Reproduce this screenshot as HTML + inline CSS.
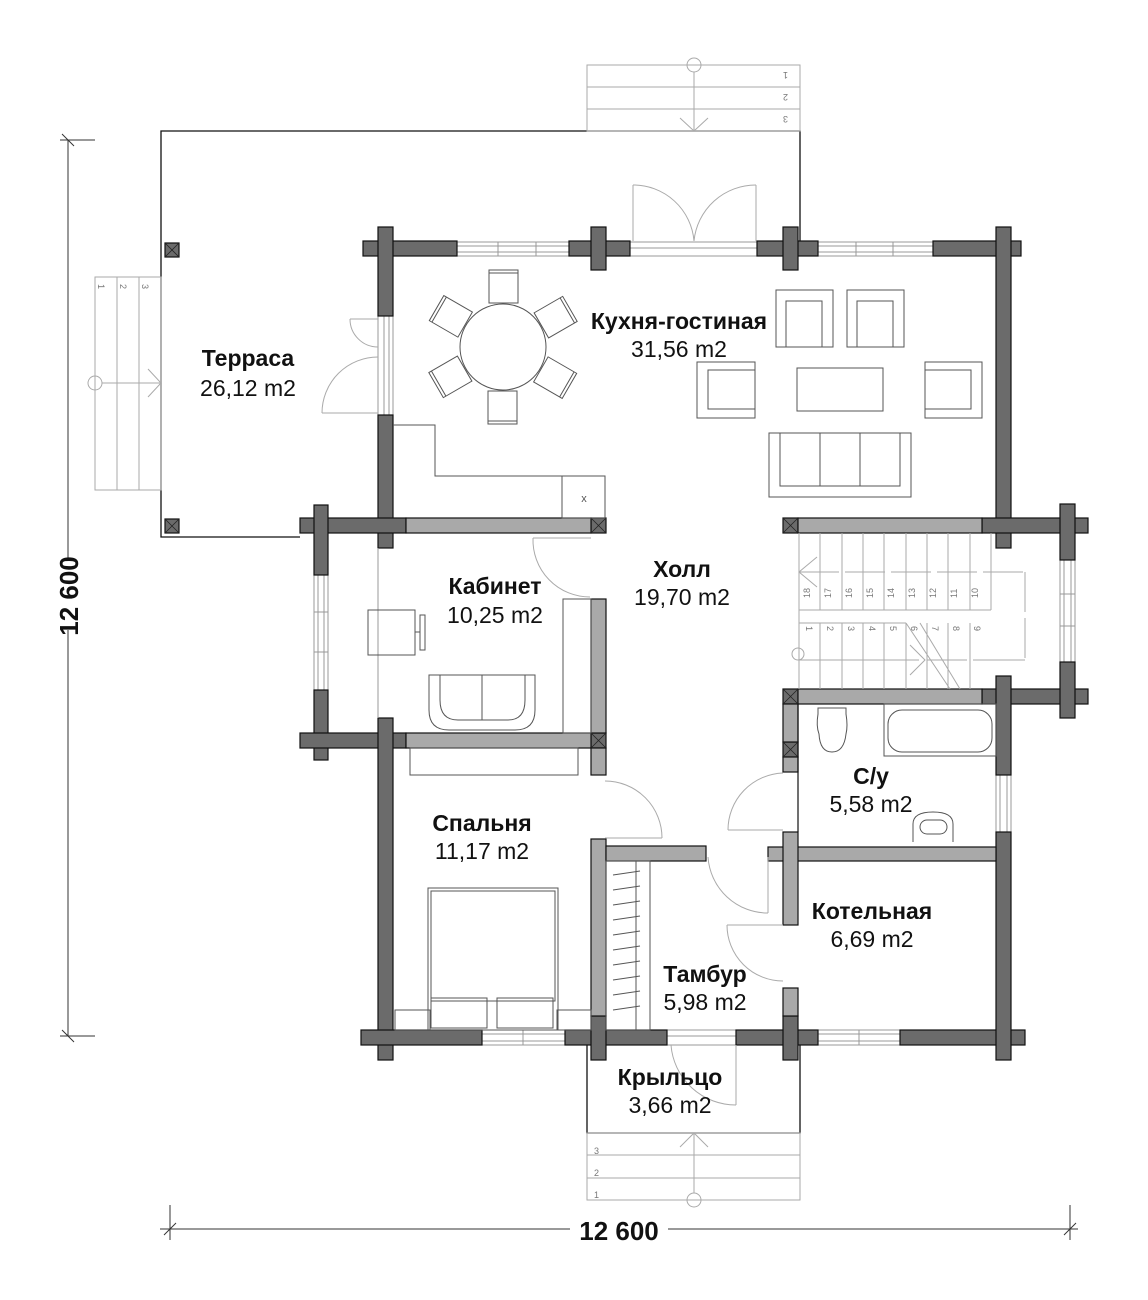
<!DOCTYPE html>
<html><head><meta charset="utf-8"><style>
html,body{margin:0;padding:0;background:#fff;}
svg{display:block;}
.n{font-family:"Liberation Sans",sans-serif;font-weight:bold;font-size:23px;text-anchor:middle;fill:#111;}
.a{font-family:"Liberation Sans",sans-serif;font-size:23px;text-anchor:middle;fill:#111;}
.d{fill:#6b6b6b;stroke:#111;stroke-width:1.2;}
.l{fill:#a9a9a9;stroke:#111;stroke-width:1.2;}
.w{fill:#fff;stroke:#999;stroke-width:1;}
.f{fill:none;stroke:#555;stroke-width:1;}
.g{fill:none;stroke:#aaa;stroke-width:1;}
.s{font-family:"Liberation Sans",sans-serif;font-size:9px;fill:#777;}
</style></head><body>
<svg width="1148" height="1300" viewBox="0 0 1148 1300" xmlns="http://www.w3.org/2000/svg">
<g stroke="#333" stroke-width="1" fill="none">
<line x1="68" y1="140" x2="68" y2="560"/><line x1="68" y1="630" x2="68" y2="1036"/>
<line x1="60" y1="140" x2="95" y2="140"/><line x1="62" y1="134" x2="74" y2="146"/>
<line x1="60" y1="1036" x2="95" y2="1036"/><line x1="62" y1="1030" x2="74" y2="1042"/>
<line x1="160" y1="1229" x2="570" y2="1229"/><line x1="668" y1="1229" x2="1078" y2="1229"/>
<line x1="170" y1="1205" x2="170" y2="1240"/><line x1="164" y1="1235" x2="176" y2="1223"/>
<line x1="1070" y1="1205" x2="1070" y2="1240"/><line x1="1064" y1="1235" x2="1076" y2="1223"/>
</g>
<text x="0" y="0" transform="translate(78,596) rotate(-90)" style="font-family:'Liberation Sans',sans-serif;font-weight:bold;font-size:26px;text-anchor:middle;fill:#111">12 600</text>
<text x="619" y="1240" style="font-family:'Liberation Sans',sans-serif;font-weight:bold;font-size:26px;text-anchor:middle;fill:#111">12 600</text>

<polyline points="300,537 161,537 161,131 800,131 800,241" fill="none" stroke="#111" stroke-width="1.3"/>
<rect x="165" y="243" width="14" height="14" class="d"/>
<rect x="165" y="519" width="14" height="14" class="d"/>
<g class="g"><rect x="587" y="65" width="213" height="66"/><line x1="587" y1="87" x2="800" y2="87"/><line x1="587" y1="109" x2="800" y2="109"/>
<circle cx="694" cy="65" r="7"/><line x1="694" y1="72" x2="694" y2="131"/><polyline points="680,118 694,131 708,118"/></g>
<text class="s" transform="translate(788,72) rotate(180)">1</text>
<text class="s" transform="translate(788,94) rotate(180)">2</text>
<text class="s" transform="translate(788,116) rotate(180)">3</text>
<g class="g"><rect x="95" y="277" width="66" height="213"/><line x1="117" y1="277" x2="117" y2="490"/><line x1="139" y1="277" x2="139" y2="490"/>
<circle cx="95" cy="383" r="7"/><line x1="102" y1="383" x2="161" y2="383"/><polyline points="148,369 161,383 148,397"/></g>
<text class="s" transform="translate(98,284) rotate(90)">1</text>
<text class="s" transform="translate(120,284) rotate(90)">2</text>
<text class="s" transform="translate(142,284) rotate(90)">3</text>

<g class="w">
<rect x="457" y="242" width="126" height="14"/><line x1="457" y1="246" x2="583" y2="246"/><line x1="457" y1="252" x2="583" y2="252"/><line x1="498" y1="242" x2="498" y2="256"/><line x1="536" y1="242" x2="536" y2="256"/>
<rect x="630" y="242" width="127" height="14"/><line x1="630" y1="248" x2="757" y2="248"/>
<rect x="818" y="242" width="115" height="14"/><line x1="818" y1="246" x2="933" y2="246"/><line x1="818" y1="252" x2="933" y2="252"/><line x1="856" y1="242" x2="856" y2="256"/><line x1="893" y1="242" x2="893" y2="256"/>
<rect x="378" y="316" width="15" height="99"/><line x1="384" y1="316" x2="384" y2="415"/><line x1="389" y1="316" x2="389" y2="415"/>
<rect x="314" y="575" width="14" height="115"/><line x1="318" y1="575" x2="318" y2="690"/><line x1="324" y1="575" x2="324" y2="690"/><line x1="314" y1="612" x2="328" y2="612"/><line x1="314" y1="652" x2="328" y2="652"/>
<rect x="1060" y="560" width="15" height="102"/><line x1="1064" y1="560" x2="1064" y2="662"/><line x1="1071" y1="560" x2="1071" y2="662"/><line x1="1060" y1="594" x2="1075" y2="594"/><line x1="1060" y1="626" x2="1075" y2="626"/>
<rect x="996" y="775" width="15" height="57"/><line x1="1000" y1="775" x2="1000" y2="832"/><line x1="1007" y1="775" x2="1007" y2="832"/>
<rect x="482" y="1030" width="83" height="15"/><line x1="482" y1="1034" x2="565" y2="1034"/><line x1="482" y1="1041" x2="565" y2="1041"/><line x1="523" y1="1030" x2="523" y2="1045"/>
<rect x="667" y="1030" width="69" height="15"/><line x1="667" y1="1036" x2="736" y2="1036"/>
<rect x="818" y="1030" width="82" height="15"/><line x1="818" y1="1034" x2="900" y2="1034"/><line x1="818" y1="1041" x2="900" y2="1041"/><line x1="859" y1="1030" x2="859" y2="1045"/>
</g>

<g class="d">
<rect x="363" y="241" width="94" height="15"/>
<rect x="378" y="227" width="15" height="89"/>
<rect x="378" y="415" width="15" height="133"/>
<rect x="569" y="241" width="61" height="15"/><rect x="591" y="227" width="15" height="43"/>
<rect x="757" y="241" width="61" height="15"/><rect x="783" y="227" width="15" height="43"/>
<rect x="933" y="241" width="88" height="15"/><rect x="996" y="227" width="15" height="321"/>
<rect x="300" y="518" width="106" height="15"/><rect x="314" y="505" width="14" height="70"/>
<rect x="314" y="690" width="14" height="70"/><rect x="300" y="733" width="106" height="15"/>
<rect x="378" y="718" width="15" height="342"/>
<rect x="361" y="1030" width="121" height="15"/>
<rect x="565" y="1030" width="102" height="15"/><rect x="591" y="1016" width="15" height="44"/>
<rect x="736" y="1030" width="82" height="15"/><rect x="783" y="1016" width="15" height="44"/>
<rect x="900" y="1030" width="125" height="15"/><rect x="996" y="832" width="15" height="228"/>
<rect x="982" y="518" width="106" height="15"/><rect x="1060" y="504" width="15" height="56"/>
<rect x="982" y="689" width="106" height="15"/><rect x="1060" y="662" width="15" height="56"/><rect x="996" y="676" width="15" height="99"/>
<rect x="783" y="518" width="15" height="15"/><rect x="783" y="689" width="15" height="15"/>
<rect x="591" y="518" width="15" height="15"/><rect x="591" y="733" width="15" height="15"/><rect x="783" y="742" width="15" height="15"/>
</g>
<g class="l">
<rect x="406" y="518" width="185" height="15"/>
<rect x="406" y="733" width="185" height="15"/>
<rect x="591" y="599" width="15" height="134"/>
<rect x="591" y="748" width="15" height="27"/>
<rect x="798" y="518" width="184" height="15"/>
<rect x="798" y="689" width="184" height="15"/>
<rect x="783" y="704" width="15" height="38"/><rect x="783" y="757" width="15" height="15"/>
<rect x="591" y="839" width="15" height="177"/><rect x="606" y="846" width="100" height="15"/>
<rect x="768" y="847" width="228" height="14"/><rect x="783" y="832" width="15" height="93"/>
<rect x="783" y="988" width="15" height="28"/>
</g>
<g stroke="#222" stroke-width="0.8">
<line x1="591" y1="518" x2="606" y2="533"/><line x1="606" y1="518" x2="591" y2="533"/>
<line x1="591" y1="733" x2="606" y2="748"/><line x1="606" y1="733" x2="591" y2="748"/>
<line x1="783" y1="518" x2="798" y2="533"/><line x1="798" y1="518" x2="783" y2="533"/>
<line x1="783" y1="689" x2="798" y2="704"/><line x1="798" y1="689" x2="783" y2="704"/>
<line x1="783" y1="742" x2="798" y2="757"/><line x1="798" y1="742" x2="783" y2="757"/>
<line x1="165" y1="243" x2="179" y2="257"/><line x1="179" y1="243" x2="165" y2="257"/>
<line x1="165" y1="519" x2="179" y2="533"/><line x1="179" y1="519" x2="165" y2="533"/>
</g>
<line x1="798" y1="704" x2="798" y2="832" stroke="#111" stroke-width="1.2"/>
<line x1="378" y1="548" x2="378" y2="718" stroke="#999" stroke-width="1"/>

<g class="g">
<line x1="633" y1="185" x2="633" y2="241"/><path d="M633,185 A61,61 0 0 1 694,241"/>
<line x1="756" y1="185" x2="756" y2="241"/><path d="M756,185 A62,62 0 0 0 694,241"/>
<line x1="350" y1="319" x2="378" y2="319"/><path d="M350,319 A28,28 0 0 0 378,347"/>
<line x1="322" y1="413" x2="378" y2="413"/><path d="M322,413 A56,56 0 0 1 378,357"/>
<line x1="533" y1="538" x2="591" y2="538"/><path d="M533,538 A57,57 0 0 0 590,597"/>
<line x1="605" y1="838" x2="662" y2="838"/><path d="M662,838 A57,57 0 0 0 605,781"/>
<line x1="728" y1="830" x2="783" y2="830"/><path d="M728,830 A57,57 0 0 1 783,773"/>
<line x1="768" y1="857" x2="768" y2="913"/><path d="M708,857 A60,60 0 0 0 768,913"/>
<line x1="727" y1="925" x2="783" y2="925"/><path d="M727,925 A56,56 0 0 0 783,981"/>
<line x1="736" y1="1045" x2="736" y2="1105"/><path d="M671,1045 A65,65 0 0 0 736,1105"/>
</g>
<polyline points="587,1045 587,1133 800,1133 800,1045" fill="none" stroke="#111" stroke-width="1.3"/>
<g class="g"><rect x="587" y="1133" width="213" height="67"/><line x1="587" y1="1155" x2="800" y2="1155"/><line x1="587" y1="1178" x2="800" y2="1178"/>
<circle cx="694" cy="1200" r="7"/><line x1="694" y1="1193" x2="694" y2="1133"/><polyline points="680,1147 694,1133 708,1147"/></g>
<text class="s" x="594" y="1154">3</text><text class="s" x="594" y="1176">2</text><text class="s" x="594" y="1198">1</text>

<g class="f">
<circle cx="503" cy="347" r="43"/>
<g transform="translate(503,347)">
<g id="ch"><rect x="-14" y="-77" width="29" height="33"/><line x1="-14" y1="-74" x2="15" y2="-74"/></g>
<use href="#ch" transform="rotate(60)"/><use href="#ch" transform="rotate(120)"/><use href="#ch" transform="rotate(180)"/><use href="#ch" transform="rotate(240)"/><use href="#ch" transform="rotate(300)"/>
</g>
<polyline points="393,425 435,425 435,476 605,476"/>
<rect x="562" y="476" width="43" height="42"/>
</g>
<text x="584" y="502" style="font-family:'Liberation Sans',sans-serif;font-size:11px;fill:#555;text-anchor:middle">x</text>
<g class="f">
<rect x="776" y="290" width="57" height="57"/><rect x="786" y="301" width="36" height="46"/>
<rect x="847" y="290" width="57" height="57"/><rect x="857" y="301" width="36" height="46"/>
<rect x="697" y="362" width="58" height="56"/><rect x="708" y="370" width="47" height="39"/>
<rect x="925" y="362" width="57" height="56"/><rect x="925" y="370" width="46" height="39"/>
<rect x="797" y="368" width="86" height="43"/>
<rect x="769" y="433" width="142" height="64"/><rect x="780" y="433" width="120" height="53"/><line x1="820" y1="433" x2="820" y2="486"/><line x1="860" y1="433" x2="860" y2="486"/>
<rect x="368" y="610" width="47" height="45"/><rect x="420" y="615" width="5" height="35"/><line x1="415" y1="632" x2="420" y2="632"/>
<path d="M429,675 H535 V710 Q535,730 515,730 H449 Q429,730 429,710 Z"/><path d="M440,675 V700 Q440,720 458,720 H508 Q525,720 525,700 V675"/><line x1="482" y1="675" x2="482" y2="720"/>
<rect x="563" y="599" width="28" height="134"/>
<rect x="410" y="748" width="168" height="27"/>
<rect x="428" y="888" width="130" height="142"/><rect x="431" y="891" width="124" height="110"/>
<rect x="431" y="998" width="56" height="30"/><rect x="497" y="998" width="56" height="30"/>
<rect x="395" y="1010" width="35" height="20"/><rect x="557" y="1010" width="34" height="20"/>
<rect x="606" y="861" width="44" height="169"/><line x1="636" y1="861" x2="636" y2="1030"/>
<rect x="884" y="704" width="112" height="52"/><rect x="888" y="710" width="104" height="42" rx="14"/>
<path d="M818,708 H846 V714 Q848,726 846,734 Q844,752 832,752 Q820,752 819,734 Q816,726 818,714 Z"/>
<path d="M913,842 V824 Q913,812 933,812 Q953,812 953,824 V842"/><rect x="920" y="820" width="27" height="14" rx="7"/>
</g>
<g stroke="#555" stroke-width="1">
<line x1="613" y1="875" x2="640" y2="871"/><line x1="613" y1="890" x2="640" y2="886"/><line x1="613" y1="905" x2="640" y2="901"/><line x1="613" y1="920" x2="640" y2="916"/><line x1="613" y1="935" x2="640" y2="931"/><line x1="613" y1="950" x2="640" y2="946"/><line x1="613" y1="965" x2="640" y2="961"/><line x1="613" y1="980" x2="640" y2="976"/><line x1="613" y1="995" x2="640" y2="991"/><line x1="613" y1="1010" x2="640" y2="1006"/>
</g>
<g class="g">
<line x1="799" y1="533" x2="799" y2="689"/>
<line x1="820" y1="533" x2="820" y2="610"/><line x1="842" y1="533" x2="842" y2="610"/><line x1="863" y1="533" x2="863" y2="610"/><line x1="884" y1="533" x2="884" y2="610"/><line x1="906" y1="533" x2="906" y2="610"/><line x1="927" y1="533" x2="927" y2="610"/><line x1="948" y1="533" x2="948" y2="610"/><line x1="970" y1="533" x2="970" y2="610"/><line x1="991" y1="533" x2="991" y2="610"/>
<line x1="820" y1="623" x2="820" y2="689"/><line x1="842" y1="623" x2="842" y2="689"/><line x1="863" y1="623" x2="863" y2="689"/><line x1="884" y1="623" x2="884" y2="689"/><line x1="906" y1="623" x2="906" y2="689"/><line x1="927" y1="623" x2="927" y2="689"/><line x1="948" y1="623" x2="948" y2="689"/><line x1="970" y1="623" x2="970" y2="689"/>
<line x1="799" y1="610" x2="991" y2="610"/><line x1="799" y1="623" x2="906" y2="623"/>
<line x1="799" y1="572" x2="1025" y2="572" stroke-dasharray="40,6"/><line x1="1025" y1="572" x2="1025" y2="660" stroke-dasharray="40,6"/><line x1="799" y1="660" x2="1025" y2="660" stroke-dasharray="120,8,40,6"/>
<polyline points="817,557 799,572 817,587"/><polyline points="910,645 925,660 910,675"/>
<line x1="906" y1="623" x2="950" y2="689"/><line x1="920" y1="623" x2="960" y2="689"/>
<circle cx="798" cy="654" r="6"/>
</g>
<g class="s" font-size="8">
<text transform="translate(806,626) rotate(90)">1</text><text transform="translate(827,626) rotate(90)">2</text><text transform="translate(848,626) rotate(90)">3</text><text transform="translate(869,626) rotate(90)">4</text><text transform="translate(890,626) rotate(90)">5</text><text transform="translate(911,626) rotate(90)">6</text><text transform="translate(932,626) rotate(90)">7</text><text transform="translate(953,626) rotate(90)">8</text><text transform="translate(974,626) rotate(90)">9</text>
<text transform="translate(810,598) rotate(-90)">18</text><text transform="translate(831,598) rotate(-90)">17</text><text transform="translate(852,598) rotate(-90)">16</text><text transform="translate(873,598) rotate(-90)">15</text><text transform="translate(894,598) rotate(-90)">14</text><text transform="translate(915,598) rotate(-90)">13</text><text transform="translate(936,598) rotate(-90)">12</text><text transform="translate(957,598) rotate(-90)">11</text><text transform="translate(978,598) rotate(-90)">10</text>
</g>

<text class="n" x="248" y="366">Терраса</text><text class="a" x="248" y="396">26,12 m2</text>
<text class="n" x="679" y="329">Кухня-гостиная</text><text class="a" x="679" y="357">31,56 m2</text>
<text class="n" x="495" y="594">Кабинет</text><text class="a" x="495" y="623">10,25 m2</text>
<text class="n" x="682" y="577">Холл</text><text class="a" x="682" y="605">19,70 m2</text>
<text class="n" x="871" y="784">С/у</text><text class="a" x="871" y="812">5,58 m2</text>
<text class="n" x="482" y="831">Спальня</text><text class="a" x="482" y="859">11,17 m2</text>
<text class="n" x="872" y="919">Котельная</text><text class="a" x="872" y="947">6,69 m2</text>
<text class="n" x="705" y="982">Тамбур</text><text class="a" x="705" y="1010">5,98 m2</text>
<text class="n" x="670" y="1085">Крыльцо</text><text class="a" x="670" y="1113">3,66 m2</text>
</svg>
</body></html>
